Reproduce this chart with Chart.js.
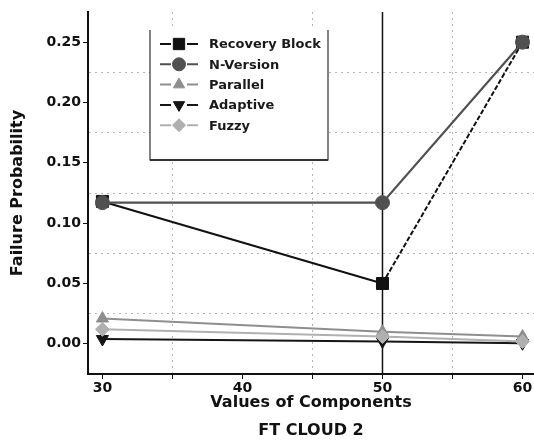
<!DOCTYPE html>
<html><head><meta charset="utf-8">
<script src="https://cdn.jsdelivr.net/npm/chart.js@4.4.0/dist/chart.umd.min.js"></script>
<style>html,body{margin:0;padding:0;background:#fff;}#wrap{width:534px;height:445px;}</style>
</head><body><div id="wrap"><canvas id="c" width="534" height="445"></canvas></div>
<script>
// ---- data ----
const components = [30, 50, 60];
const seriesNames = ['Recovery Block', 'N-Version', 'Parallel', 'Adaptive', 'Fuzzy'];
const recoveryBlock = [0.118, 0.050, 0.250];
const nVersion = [0.117, 0.117, 0.250];
const parallel = [0.021, 0.010, 0.006];
const adaptive = [0.004, 0.002, 0.0005];
const fuzzy = [0.012, 0.006, 0.002];
const xTickValues = [30, 35, 40, 45, 50, 55, 60];
const xTickLabels = [30, 40, 50, 60];
const yTickValues = [0, 0.025, 0.05, 0.075, 0.1, 0.125, 0.15, 0.175, 0.2, 0.225, 0.25];
const yTickLabels = [0, 0.05, 0.1, 0.15, 0.2, 0.25];
const xTitle = ['Values of Components', 'FT CLOUD 2'];
const yTitle = 'Failure Probability';
const markedX = 50;

const FONT = '"DejaVu Sans", "Liberation Sans", sans-serif';
const isLabel = (arr, v) => arr.some(a => Math.abs(a - v) < 1e-9);
const pts = vals => components.map((x, i) => ({x, y: vals[i]}));

const styles = [
  {color: '#111111', style: 'rect', r: 8.5, rot: 0, w: 2},
  {color: '#505050', style: 'circle', r: 7, rot: 0, w: 2.2},
  {color: '#8e8e8e', style: 'triangle', r: 7, rot: 0, w: 2},
  {color: '#151515', style: 'triangle', r: 7, rot: 180, w: 2},
  {color: '#b0b0b0', style: 'rectRot', r: 7, rot: 0, w: 2}
];
const values = [recoveryBlock, nVersion, parallel, adaptive, fuzzy];
const drawOrder = [4, 3, 2, 1, 0];

const datasets = drawOrder.map(i => ({
  label: seriesNames[i],
  data: pts(values[i]),
  borderColor: styles[i].color,
  backgroundColor: styles[i].color,
  pointBackgroundColor: styles[i].color,
  pointBorderColor: styles[i].color,
  pointStyle: styles[i].style,
  pointRadius: styles[i].r,
  pointRotation: styles[i].rot,
  pointBorderWidth: 1,
  borderWidth: styles[i].w,
  tension: 0,
  clip: false,
  segment: i === 0 ? {borderDash: c => c.p0DataIndex === 1 ? [5, 2] : undefined} : undefined
}));

const markerLine = {
  id: 'markerLine',
  beforeDatasetsDraw(chart) {
    const {ctx, chartArea, scales} = chart;
    const x = scales.x.getPixelForValue(markedX);
    ctx.save();
    ctx.strokeStyle = '#111';
    ctx.lineWidth = 1.5;
    ctx.beginPath();
    ctx.moveTo(x, chartArea.top);
    ctx.lineTo(x, chartArea.bottom);
    ctx.stroke();
    ctx.restore();
  }
};

const boxLegend = {
  id: 'boxLegend',
  afterDraw(chart) {
    const {ctx} = chart;
    const L = 150, T = 30, R = 328, B = 160;
    ctx.save();
    ctx.fillStyle = '#fff';
    ctx.fillRect(L, T, R - L, B - T);
    ctx.strokeStyle = '#333';
    ctx.lineWidth = 1.2;
    ctx.beginPath();
    ctx.moveTo(L, T); ctx.lineTo(L, B); ctx.lineTo(R, B); ctx.lineTo(R, T);
    ctx.stroke();
    ctx.lineWidth = 2;
    ctx.beginPath(); ctx.moveTo(L, B); ctx.lineTo(R, B); ctx.stroke();
    seriesNames.forEach((name, i) => {
      const y = 44 + i * 20.3;
      const s = styles[i];
      ctx.strokeStyle = s.color;
      ctx.lineWidth = 2;
      ctx.beginPath();
      ctx.moveTo(160, y); ctx.lineTo(171, y);
      ctx.moveTo(187, y); ctx.lineTo(198, y);
      ctx.stroke();
      ctx.fillStyle = s.color;
      ctx.lineWidth = 1;
      Chart.helpers.drawPoint(ctx, {pointStyle: s.style, rotation: s.rot, radius: s.r - 0.5, borderWidth: 1}, 179, y);
      ctx.fillStyle = '#1a1a1a';
      ctx.font = 'bold 13px ' + FONT;
      ctx.textBaseline = 'middle';
      ctx.textAlign = 'left';
      ctx.fillText(name, 209, y + 1);
    });
    ctx.restore();
  }
};

new Chart(document.getElementById('c'), {
  type: 'line',
  data: {datasets},
  plugins: [markerLine, boxLegend],
  options: {
    responsive: false,
    animation: false,
    devicePixelRatio: 1,
    layout: {autoPadding: false, padding: {top: 12, right: 0, left: 0, bottom: 0}},
    plugins: {legend: {display: false}, tooltip: {enabled: false}},
    scales: {
      x: {
        type: 'linear',
        min: 28.97,
        max: 60.82,
        afterBuildTicks: s => { s.ticks = xTickValues.map(v => ({value: v})); },
        afterFit: s => { s.height = 71; s.paddingLeft = 0; s.paddingRight = 0; },
        ticks: {
          autoSkip: false, maxRotation: 0, padding: 1,
          color: '#111',
          font: {family: FONT, size: 14, weight: 'bold'},
          callback: v => isLabel(xTickLabels, v) ? String(v) : ''
        },
        grid: {
          drawOnChartArea: true,
          color: c => (c.tick && !isLabel(xTickLabels, c.tick.value)) ? '#b4b4b4' : 'rgba(0,0,0,0)',
          tickColor: '#111',
          tickLength: 5,
          lineWidth: 1
        },
        border: {display: true, color: '#111', width: 2, dash: [2, 4]},
        title: {
          display: true, text: xTitle, color: '#111',
          font: {family: FONT, size: 16, weight: 'bold', lineHeight: 1.75},
          padding: {top: 0, bottom: 0}
        }
      },
      y: {
        type: 'linear',
        min: -0.025,
        max: 0.275,
        afterBuildTicks: s => { s.ticks = yTickValues.map(v => ({value: v})); },
        afterFit: s => { s.width = 88; s.paddingTop = 0; s.paddingBottom = 0; },
        ticks: {
          autoSkip: false, padding: 2,
          color: '#111',
          font: {family: FONT, size: 14, weight: 'bold'},
          callback: v => isLabel(yTickLabels, v) ? v.toFixed(2) : ''
        },
        grid: {
          drawOnChartArea: true,
          color: c => (c.tick && !isLabel(yTickLabels, c.tick.value)) ? '#b4b4b4' : 'rgba(0,0,0,0)',
          tickColor: c => (c.tick && isLabel(yTickLabels, c.tick.value)) ? '#111' : 'rgba(0,0,0,0)',
          tickLength: 5,
          lineWidth: 1
        },
        border: {display: true, color: '#111', width: 2, dash: [2, 4]},
        title: {
          display: true, text: yTitle, color: '#111',
          font: {family: FONT, size: 16, weight: 'bold'},
          padding: {top: 8, bottom: 0}
        }
      }
    }
  }
});
</script>
</body></html>
